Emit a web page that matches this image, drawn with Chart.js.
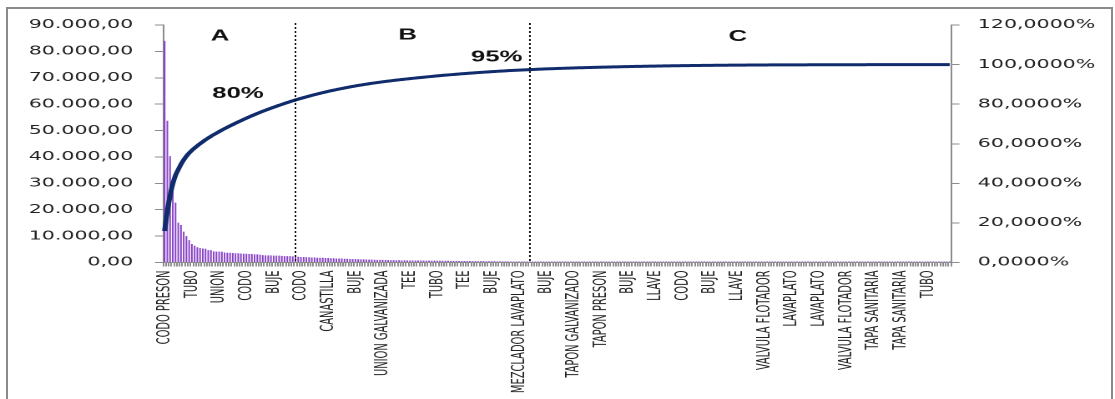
<!DOCTYPE html>
<html>
<head>
<meta charset="utf-8">
<script src="https://cdn.jsdelivr.net/npm/chart.js@4.4.1/dist/chart.umd.min.js"></script>
<style>
  html, body { margin: 0; padding: 0; background: #fff; overflow: hidden; width: 1115px; height: 399px; }
  /* the chart is drawn on a narrower canvas and widened to the page width */
  #stage { position: absolute; left: 0; top: 0; width: 668px; height: 399px; transform: scaleX(1.669162); transform-origin: 0 0; }
  #frame { position: absolute; left: 6px; top: 7px; width: 1107px; height: 430px; box-sizing: border-box; border: 2px solid #8a8a8a; pointer-events: none; }
</style>
</head>
<body>
<div id="stage"><canvas id="pareto"></canvas></div>
<div id="frame"></div>
<script>
// Axis labels shown under every tenth item
const tickLabels = [
  'CODO PRESON', 'TUBO', 'UNION', 'CODO', 'BUJE', 'CODO', 'CANASTILLA', 'BUJE',
  'UNION GALVANIZADA', 'TEE', 'TUBO', 'TEE', 'BUJE', 'MEZCLADOR LAVAPLATO', 'BUJE',
  'TAPON GALVANIZADO', 'TAPON PRESON', 'BUJE', 'LLAVE', 'CODO', 'BUJE', 'LLAVE',
  'VALVULA FLOTADOR', 'LAVAPLATO', 'LAVAPLATO', 'VALVULA FLOTADOR', 'TAPA SANITARIA',
  'TAPA SANITARIA', 'TUBO'
];

// Amounts per item, sorted high to low, split by ABC class
const zoneA = [
  84000, 53700, 40300, 32000, 22700, 15100, 14200, 11700, 10000, 8500,
  7000, 6400, 5800, 5500, 5300, 5200, 4700, 4700, 4200, 4100,
  4100, 4100, 3800, 3700, 3700, 3600, 3500, 3500, 3400, 3300,
  3300, 3200, 3200, 3100, 3100, 3000, 2800, 2700, 2700, 2700,
  2600, 2600, 2600, 2500, 2400, 2400, 2400, 2300
];
const zoneB = [
  2200, 2200, 2100, 2100, 2000, 2000, 1900, 1900, 1800, 1800,
  1800, 1700, 1700, 1600, 1600, 1500, 1500, 1500, 1400, 1400,
  1350, 1300, 1300, 1250, 1200, 1200, 1150, 1100, 1100, 1050,
  1000, 1000, 980, 950, 920, 900, 880, 860, 840, 820,
  800, 790, 780, 770, 760, 750, 740, 730, 720, 710,
  700, 690, 680, 670, 660, 650, 640, 630, 610, 600,
  590, 590, 570, 560, 550, 540, 530, 520, 510, 500,
  490, 480, 470, 460, 450, 440, 430, 420, 410, 400,
  390, 380, 370, 360, 350, 340
];
const zoneC = [
  330, 320, 310, 300, 300, 290, 280, 280, 270, 260,
  260, 250, 250, 240, 240, 230, 230, 220, 220, 210,
  210, 200, 200, 200, 190, 190, 180, 180, 180, 170,
  170, 170, 160, 160, 160, 150, 150, 150, 150, 140,
  140, 140, 140, 130, 130, 130, 130, 120, 120, 120,
  110, 110, 110, 100, 100, 100, 100, 90, 90, 90,
  90, 80, 80, 80, 80, 80, 70, 70, 70, 70,
  60, 60, 60, 60, 60, 50, 50, 50, 50, 50,
  50, 40, 40, 40, 40, 40, 40, 30, 30, 30,
  30, 30, 30, 20, 20, 20, 20, 20, 20, 20,
  20, 20, 20, 20, 20, 20, 20, 20, 15, 15,
  15, 15, 15, 15, 15, 15, 15, 15, 15, 15,
  12, 12, 12, 12, 12, 12, 12, 12, 12, 12,
  10, 10, 10, 10, 10, 10, 10, 10, 10, 10,
  8, 8, 8, 8, 8, 8, 8, 8, 8, 8,
  6, 6, 6, 6, 5
];

// Cut-off captions for the 80 % and 95 % thresholds
const zoneNames = ['A', 'B', 'C'];
const cutoffCaptions = ['80%', '95%'];

const amounts = zoneA.concat(zoneB, zoneC);
const categories = amounts.map((_, i) => (i % 10 === 0 ? tickLabels[i / 10] : ''));
const zoneBreaks = [zoneA.length, zoneA.length + zoneB.length];

// running share of the total, in percent
const grandTotal = amounts.reduce((a, b) => a + b, 0);
let running = 0;
const cumulativePct = amounts.map(v => (running += v) / grandTotal * 100);

function fmtAmount(v) {
  return Math.round(v).toString().replace(/\B(?=(\d{3})+(?!\d))/g, '.') + ',00';
}
function fmtPct(v) {
  return v.toFixed(4).replace('.', ',') + '%';
}

const AXIS_GREY = '#8c8c8c';
const TEXT = '#222';
const NUM_FONT = { family: '"DejaVu Sans", Verdana, sans-serif', size: 12.3 };
const CAT_FONT = { family: '"DejaVu Sans Condensed", "Liberation Sans Narrow", sans-serif', size: 11 };

// dotted class boundaries and bold captions
const zoneMarks = {
  id: 'zoneMarks',
  afterDatasetsDraw(chart) {
    const { ctx, chartArea, scales } = chart;
    const x = scales.x, yPct = scales.yPct;
    ctx.save();
    ctx.strokeStyle = '#111';
    ctx.lineWidth = 1;
    ctx.setLineDash([2, 2]);
    zoneBreaks.forEach(i => {
      const px = x.getPixelForValue(i);
      ctx.beginPath();
      ctx.moveTo(px, chartArea.top - 2);
      ctx.lineTo(px, chartArea.bottom);
      ctx.stroke();
    });
    ctx.setLineDash([]);
    ctx.fillStyle = '#111';
    ctx.font = 'bold 15.4px "Liberation Sans", Arial, sans-serif';
    ctx.textAlign = 'center';
    ctx.textBaseline = 'middle';
    const namePlaces = [[20.3, 114.2], [89.1, 114.8], [210.3, 114.0]];
    zoneNames.forEach((t, k) => {
      ctx.fillText(t, x.getPixelForValue(namePlaces[k][0]), yPct.getPixelForValue(namePlaces[k][1]));
    });
    const capPlaces = [[26.9, 85.2], [121.8, 103.6]];
    cutoffCaptions.forEach((t, k) => {
      ctx.fillText(t, x.getPixelForValue(capPlaces[k][0]), yPct.getPixelForValue(capPlaces[k][1]));
    });
    ctx.restore();
  }
};

new Chart(document.getElementById('pareto'), {
  data: {
    labels: categories,
    datasets: [
      {
        type: 'line',
        data: cumulativePct,
        yAxisID: 'yPct',
        borderColor: '#102c6c',
        borderWidth: 3,
        pointRadius: 0,
        cubicInterpolationMode: 'monotone',
        order: 0
      },
      {
        type: 'bar',
        data: amounts,
        yAxisID: 'y',
        backgroundColor: '#8741c6',
        barPercentage: 0.6,
        categoryPercentage: 1,
        minBarLength: 1,
        order: 1
      }
    ]
  },
  options: {
    responsive: true,
    maintainAspectRatio: false,
    devicePixelRatio: 2,
    animation: false,
    events: [],
    layout: { padding: { top: 25, left: 0, right: 0, bottom: 0 } },
    plugins: { legend: { display: false }, tooltip: { enabled: false } },
    scales: {
      x: {
        type: 'category',
        offset: true,
        border: { display: true, color: AXIS_GREY, width: 1 },
        grid: { display: true, drawOnChartArea: false, drawTicks: true, tickLength: 4, color: AXIS_GREY, offset: true },
        ticks: { autoSkip: false, maxRotation: 90, minRotation: 90, padding: 4, color: TEXT, font: CAT_FONT },
        afterFit(scale) { scale.height = 136.5; }
      },
      y: {
        position: 'left',
        min: 0,
        max: 90000,
        border: { display: true, color: AXIS_GREY, width: 1 },
        grid: { display: true, drawOnChartArea: false, drawTicks: true, tickLength: 5, color: AXIS_GREY },
        ticks: { stepSize: 10000, padding: 13, color: TEXT, font: NUM_FONT, callback: v => fmtAmount(v) },
        afterFit(scale) { scale.width = 97.8; }
      },
      yPct: {
        position: 'right',
        min: 0,
        max: 120,
        border: { display: true, color: AXIS_GREY, width: 1 },
        grid: { display: true, drawOnChartArea: false, drawTicks: true, tickLength: 5, color: AXIS_GREY },
        ticks: { stepSize: 20, padding: 11, color: TEXT, font: NUM_FONT, callback: v => fmtPct(v) },
        afterFit(scale) { scale.width = 98.2; }
      }
    }
  },
  plugins: [zoneMarks]
});
</script>
</body>
</html>
